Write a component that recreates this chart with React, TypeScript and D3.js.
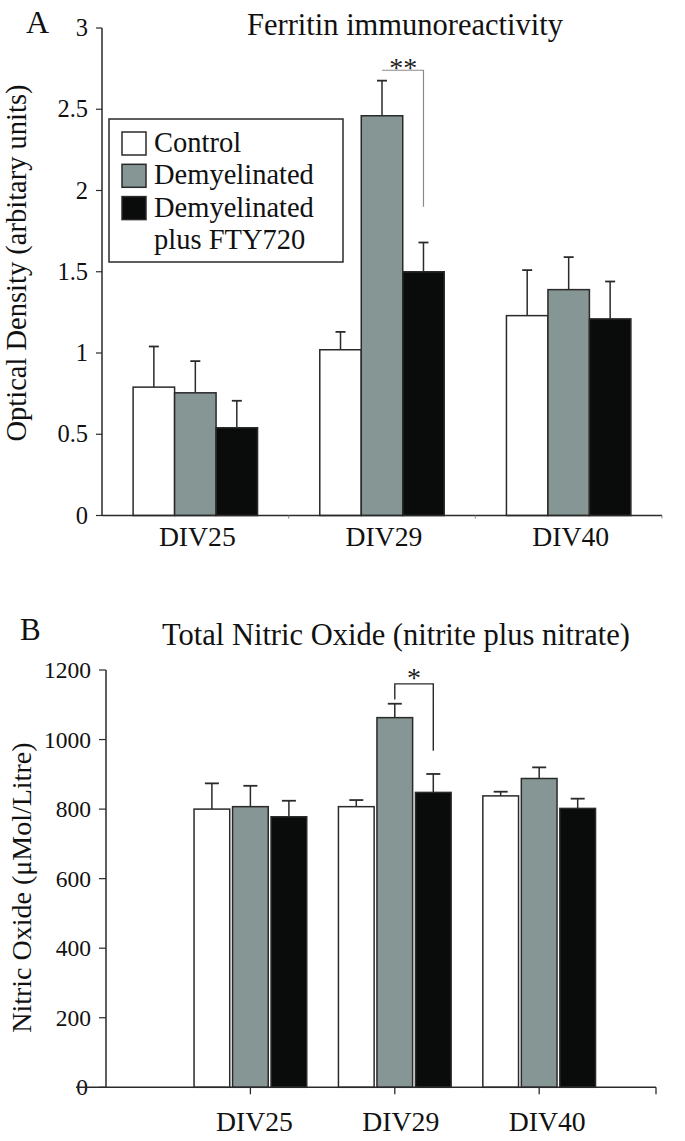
import React from "react";
import * as d3 from "d3";

const categories = ["DIV25", "DIV29", "DIV40"];
const series = ["Control", "Demyelinated", "Demyelinated plus FTY720"];
const legendLines = [["Control"], ["Demyelinated"], ["Demyelinated", "plus FTY720"]];

// Panel A: Ferritin immunoreactivity (optical density)
const ferritinMean = [
  [0.79, 0.755, 0.54],
  [1.02, 2.46, 1.5],
  [1.23, 1.39, 1.21],
];
const ferritinUpper = [
  [1.04, 0.95, 0.706],
  [1.13, 2.676, 1.68],
  [1.51, 1.59, 1.44],
];
const ferritinTicks = [0, 0.5, 1, 1.5, 2, 2.5, 3];

// Panel B: Total nitric oxide (µMol/Litre)
const noMean = [
  [800, 807, 778],
  [807, 1063, 848],
  [838, 888, 802],
];
const noUpper = [
  [874, 867, 824],
  [826, 1103, 901],
  [850, 920, 830],
];
const noTicks = [0, 200, 400, 600, 800, 1000, 1200];

const FILLS = ["#ffffff", "#869694", "#0a0c0c"];
const STROKE = "#2a2a2a";
const FONT = "'Liberation Serif', 'Times New Roman', serif";

export default function App() {
  // ----- Panel A scales
  const xA = d3.scaleBand<string>().domain(categories).range([102, 662]).padding(0);
  const bwA = xA.bandwidth();
  const innerA = d3.scaleBand<string>().domain(series).range([bwA / 6, (bwA * 5) / 6]).padding(0);
  const yA = d3.scaleLinear().domain([0, 3]).range([515.5, 28]);

  // ----- Panel B scales
  const xB = d3.scaleLinear().domain([0, 3.809]).range([106, 656]);
  const innerB = d3.scaleBand<string>().domain(series).range([-56.35, 56.35]).paddingInner(0.073).paddingOuter(0);
  const yB = d3.scaleLinear().domain([0, 1200]).range([1087.3, 670]);

  const barsA: React.ReactNode[] = [];
  categories.forEach((c, ci) => {
    series.forEach((s, si) => {
      const x0 = (xA(c) as number) + (innerA(s) as number);
      const w = innerA.bandwidth();
      const yTop = yA(ferritinMean[ci][si]);
      const yErr = yA(ferritinUpper[ci][si]);
      const cx = x0 + w / 2;
      barsA.push(
        <g key={`a-${ci}-${si}`}>
          <line x1={cx} x2={cx} y1={yTop} y2={yErr} stroke={STROKE} strokeWidth={1.5} />
          <line x1={cx - 5} x2={cx + 5} y1={yErr} y2={yErr} stroke={STROKE} strokeWidth={1.8} />
          <rect x={x0} y={yTop} width={w} height={yA(0) - yTop} fill={FILLS[si]} stroke={STROKE} strokeWidth={1.5} />
        </g>
      );
    });
  });

  const barsB: React.ReactNode[] = [];
  categories.forEach((c, ci) => {
    series.forEach((s, si) => {
      const center = xB(ci + 1);
      const x0 = center + (innerB(s) as number);
      const w = innerB.bandwidth();
      const yTop = yB(noMean[ci][si]);
      const yErr = yB(noUpper[ci][si]);
      const cx = x0 + w / 2;
      barsB.push(
        <g key={`b-${ci}-${si}`}>
          <line x1={cx} x2={cx} y1={yTop} y2={yErr} stroke={STROKE} strokeWidth={1.5} />
          <line x1={cx - 7} x2={cx + 7} y1={yErr} y2={yErr} stroke={STROKE} strokeWidth={1.8} />
          <rect x={x0} y={yTop} width={w} height={yB(0) - yTop} fill={FILLS[si]} stroke={STROKE} strokeWidth={1.5} />
        </g>
      );
    });
  });

  // significance bracket positions
  const a29 = xA("DIV29") as number;
  const aGrey = a29 + (innerA(series[1]) as number) + innerA.bandwidth() / 2;
  const aBlack = a29 + (innerA(series[2]) as number) + innerA.bandwidth() / 2;
  const bGrey = xB(2) + (innerB(series[1]) as number) + innerB.bandwidth() / 2;
  const bBlack = xB(2) + (innerB(series[2]) as number) + innerB.bandwidth() / 2;

  return (
    <svg
      width={685}
      height={1141}
      style={{ position: "absolute", left: 0, top: 0, background: "#fff" }}
      fontFamily={FONT}
    >
      <rect x={0} y={0} width={685} height={1141} fill="#fff" />
      {/* ================= PANEL A ================= */}
      <text x={26} y={33} fontSize={32} fill="#111">A</text>
      <text x={405} y={35} fontSize={30.5} textAnchor="middle" fill="#111">Ferritin immunoreactivity</text>
      <text
        transform={`translate(26, 263) rotate(-90)`}
        fontSize={28.5}
        textAnchor="middle"
        fill="#111"
      >
        Optical Density (arbitary units)
      </text>

      {/* y axis */}
      <line x1={102} x2={102} y1={yA(3)} y2={yA(0)} stroke={STROKE} strokeWidth={1.5} />
      {ferritinTicks.map((t) => (
        <g key={`ta-${t}`}>
          <line x1={96} x2={102} y1={yA(t)} y2={yA(t)} stroke={STROKE} strokeWidth={1.2} />
          <text x={88} y={yA(t) + 8} fontSize={24.5} textAnchor="end" fill="#111">{t}</text>
        </g>
      ))}

      {barsA}

      {/* x axis */}
      <line x1={102} x2={662} y1={yA(0)} y2={yA(0)} stroke={STROKE} strokeWidth={1.5} />
      {categories.map((c) => (
        <line key={`tk-${c}`} x1={(xA(c) as number) + bwA} x2={(xA(c) as number) + bwA} y1={yA(0)} y2={yA(0) + 3} stroke="#888" strokeWidth={1} />
      ))}
      {categories.map((c) => (
        <text key={`la-${c}`} x={(xA(c) as number) + bwA / 2 + 2} y={546} fontSize={27.7} textAnchor="middle" fill="#111">{c}</text>
      ))}

      {/* legend */}
      <rect x={109} y={119} width={234} height={143} fill="#fff" stroke={STROKE} strokeWidth={1.5} />
      {legendLines.map((lines, i) => (
        <g key={`lg-${i}`}>
          <rect x={122} y={132 + i * 32.3} width={24} height={23} fill={FILLS[i]} stroke={STROKE} strokeWidth={1.5} />
          {lines.map((ln, j) => (
            <text key={j} x={154} y={152 + (i + j) * 32.3} fontSize={28.5} fill="#111">{ln}</text>
          ))}
        </g>
      ))}

      {/* significance A */}
      <path d={`M${aGrey},${yA(2.74)} H${aBlack} V${yA(1.9)}`} fill="none" stroke="#8a8a8a" strokeWidth={1.2} />
      <text x={(aGrey + aBlack) / 2 + 0.5} y={77} fontSize={28} textAnchor="middle" fill="#222">**</text>

      {/* ================= PANEL B ================= */}
      <text x={20} y={640} fontSize={31} fill="#111">B</text>
      <text x={396} y={645} fontSize={30.5} textAnchor="middle" fill="#111">Total Nitric Oxide (nitrite plus nitrate)</text>
      <text
        transform={`translate(31, ${(yB(0) + yB(1200)) / 2 + 9}) rotate(-90)`}
        fontSize={28}
        textAnchor="middle"
        fill="#111"
      >
        Nitric Oxide (μMol/Litre)
      </text>

      <line x1={106} x2={106} y1={yB(1200)} y2={yB(0)} stroke={STROKE} strokeWidth={1.5} />
      {noTicks.map((t) => (
        <g key={`tb-${t}`}>
          <line x1={99} x2={106} y1={yB(t)} y2={yB(t)} stroke={STROKE} strokeWidth={1.2} />
          <text x={t === 0 ? 88 : 91} y={yB(t) + 8} fontSize={23.5} textAnchor="end" fill="#111">{t}</text>
        </g>
      ))}

      {barsB}

      <line x1={76} x2={656} y1={yB(0)} y2={yB(0)} stroke={STROKE} strokeWidth={1.5} />
      {[1, 2, 3, 3.809].map((v) => (
        <line key={`tkb-${v}`} x1={xB(v)} x2={xB(v)} y1={yB(0)} y2={yB(0) + 7} stroke={STROKE} strokeWidth={1.3} />
      ))}
      {categories.map((c, ci) => (
        <text key={`lb-${c}`} x={xB(ci + 1) + 4 + ci * 2} y={1131} fontSize={27.7} textAnchor="middle" fill="#111">{c}</text>
      ))}

      {/* significance B */}
      <path
        d={`M${bGrey},${yB(1115)} V${yB(1160)} H${bBlack} V${yB(968)}`}
        fill="none"
        stroke={STROKE}
        strokeWidth={1.4}
      />
      <text x={(bGrey + bBlack) / 2} y={687} fontSize={28} textAnchor="middle" fill="#222">*</text>
    </svg>
  );
}
